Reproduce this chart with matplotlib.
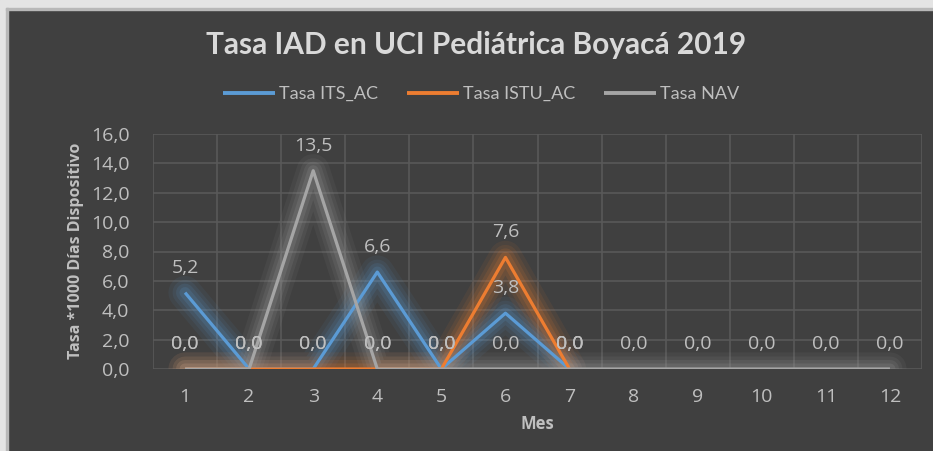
import numpy as np
import matplotlib
matplotlib.use("Agg")
import matplotlib.pyplot as plt
from matplotlib.patches import Rectangle

# datos
meses = [1, 2, 3, 4, 5, 6, 7, 8, 9, 10, 11, 12]
tasa_its = [5.2, 0.0, 0.0, 6.6, 0.0, 3.8, 0.0, None, None, None, None, None]
tasa_istu = [0.0, 0.0, 0.0, 0.0, 0.0, 7.6, 0.0, None, None, None, None, None]
tasa_nav = [0.0, 0.0, 13.5, 0.0, 0.0, 0.0, 0.0, 0.0, 0.0, 0.0, 0.0, 0.0]
nombres = ["Tasa ITS_AC", "Tasa ISTU_AC", "Tasa NAV"]
colores = ["#5b9bd5", "#ed7d31", "#a5a5a5"]
y_ticks = [0, 2, 4, 6, 8, 10, 12, 14, 16]

bg = "#404040"
txt = "#bfbfbf"
fuente = ["Open Sans", "DejaVu Sans"]

fig = plt.figure(figsize=(9.33, 4.51), dpi=100, facecolor=bg)
W, H = 933, 451
# marco claro arriba e izquierda
fig.patches.append(Rectangle((0, (H - 8) / H), 1, 8 / H, transform=fig.transFigure,
                             color="#e4e4e4", zorder=0))
fig.patches.append(Rectangle((0, 0), 6 / W, 1, transform=fig.transFigure,
                             color="#e4e4e4", zorder=0))
fig.patches.append(Rectangle((6 / W, 0), 2 / W, (H - 8) / H, transform=fig.transFigure,
                             color="#b8b8b8", zorder=0))
fig.patches.append(Rectangle((6 / W, (H - 10) / H), 1, 2 / H, transform=fig.transFigure,
                             color="#b8b8b8", zorder=0))

ax = fig.add_axes([153 / W, 82 / H, 769 / W, 235 / H])
ax.set_facecolor(bg)

series = [tasa_its, tasa_istu, tasa_nav]
for k, (vals, col, nom) in enumerate(zip(series, colores, nombres)):
    y = np.array([np.nan if v is None else v for v in vals])
    # brillo alrededor de la linea
    for lw, a in [(24, 0.07), (18, 0.09), (13, 0.12), (8, 0.16)]:
        ax.plot(meses, y, color=col, lw=lw, alpha=a, solid_capstyle="round",
                solid_joinstyle="round", zorder=2 + k)
    ax.plot(meses, y, color=col, lw=2.3, label=nom, solid_capstyle="butt", zorder=5 + k)
    for m, v in zip(meses, vals):
        if v is None:
            continue
        ax.annotate(f"{v:.1f}".replace(".", ","), (m, v), xytext=(0, 18),
                    textcoords="offset points", ha="center", va="center",
                    color=txt, fontsize=14, family=fuente, zorder=10)

ax.set_xlim(0.5, 12.5)
ax.set_ylim(0, 16)
ax.set_xticks(meses)
ax.set_xticks(np.arange(0.5, 13, 1), minor=True)
ax.set_yticks(y_ticks)
ax.set_yticklabels([f"{t:.1f}".replace(".", ",") for t in y_ticks])
ax.grid(True, which="minor", axis="x", color="#595959", lw=1.2)
ax.grid(True, which="major", axis="y", color="#595959", lw=1.2)
ax.tick_params(which="both", length=0, colors=txt, labelsize=14)
ax.tick_params(axis="x", pad=14)
ax.tick_params(axis="y", pad=17)
for lab in ax.get_xticklabels() + ax.get_yticklabels():
    lab.set_family(fuente)
for s in ax.spines.values():
    s.set_visible(False)
ax.set_axisbelow(True)

ax.set_xlabel("Mes", color=txt, fontsize=12, fontweight="bold", family=fuente, labelpad=6)
fig.text(76 / W, 1 - 251 / H, "Tasa *1000 Días Dispositivo", rotation=90, ha="center",
         va="center", color=txt, fontsize=11.5, fontweight="bold", family=fuente)

fig.text(476 / W, 1 - 45 / H, "Tasa IAD en UCI Pediátrica Boyacá 2019", ha="center",
         va="center", color="#d9d9d9", fontsize=21.5, fontweight="bold", family="Lato")

leg = fig.legend(loc="center", bbox_to_anchor=(481 / W, 1 - 94 / H), ncol=3, frameon=False,
                 handlelength=2.9, handletextpad=0.2, columnspacing=1.6,
                 prop={"family": "Lato", "size": 13})
for t in leg.get_texts():
    t.set_color(txt)
for h in leg.legend_handles:
    h.set_linewidth(2.8)

fig.savefig("out.png", dpi=100, facecolor=fig.get_facecolor())
